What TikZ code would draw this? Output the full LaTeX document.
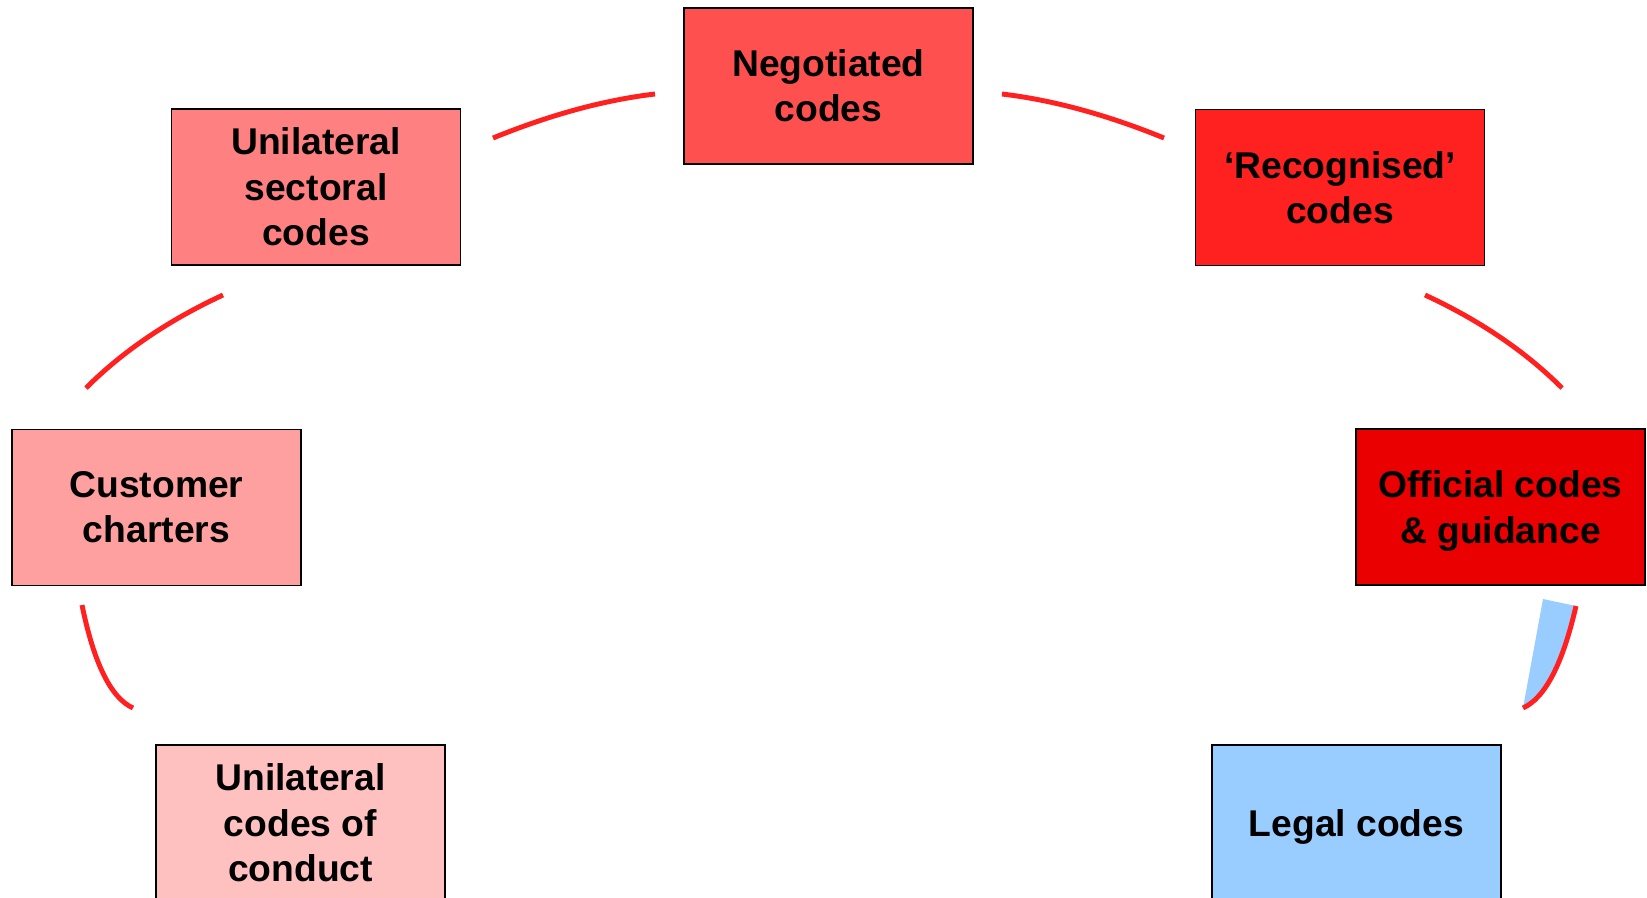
\documentclass[tikz,border=0pt]{standalone}
\usepackage{fontspec}
\setmainfont{Liberation Sans}
\usetikzlibrary{calc}
\definecolor{cNeg}{HTML}{FF5050}
\definecolor{cUss}{HTML}{FF8080}
\definecolor{cRec}{HTML}{FF2020}
\definecolor{cCust}{HTML}{FFA0A0}
\definecolor{cOff}{HTML}{EA0000}
\definecolor{cUcc}{HTML}{FFC0C0}
\definecolor{cLeg}{HTML}{99CCFF}
\definecolor{cArc}{HTML}{FF2020}
\tikzset{
  codebox/.style={draw=black, line width=0.8pt, rectangle, minimum width=5.78cm,
    minimum height=3.12cm, align=center, inner sep=0pt,
    font=\fontsize{21.2}{25.8}\selectfont\bfseries},
  arcline/.style={draw=cArc, line width=2.8pt}
}
\newcommand{\lowr}[1]{\raisebox{-0.08cm}[\height][\depth]{#1}}
\begin{document}
\begin{tikzpicture}[x=0.02cm, y=-0.02cm]
\useasboundingbox (0,0) rectangle (1647,897);
\clip (0,0) rectangle (1647,897);
\fill[white] (0,0) rectangle (1647,897);

\node[codebox, fill=cNeg]  (neg)  at (828.5,86)  {Negotiated\\codes};
\node[codebox, fill=cUss]  (uss)  at (316,187)   {Unilateral\\sectoral\\codes};
\node[codebox, fill=cRec]  (rec)  at (1340,187.5) {‘Recognised’\\codes};
\node[codebox, fill=cCust] (cust) at (156.5,507.5) {Customer\\charters};
\node[codebox, fill=cOff]  (off)  at (1500.5,507) {\lowr{Official codes}\\\lowr{\& guidance}};
\node[codebox, fill=cUcc]  (ucc)  at (300.5,823) {Unilateral\\codes of\\conduct};
\node[codebox, fill=cLeg]  (leg)  at (1356.5,823) {\lowr{Legal codes}};

% arc end points and quadratic control points
\coordinate (a1s) at (493,138);  \coordinate (a1c) at (579,103);  \coordinate (a1e) at (655,94);
\coordinate (a2s) at (1002,94);  \coordinate (a2c) at (1078,103); \coordinate (a2e) at (1164,138);
\coordinate (a3s) at (1425,295); \coordinate (a3c) at (1507,333); \coordinate (a3e) at (1562,388);
\coordinate (a5s) at (223,295);  \coordinate (a5c) at (141,333);  \coordinate (a5e) at (86,388);
\coordinate (a6s) at (82,605);   \coordinate (a6c) at (100,693);  \coordinate (a6e) at (133,708);
\coordinate (a4s) at (1576,606); \coordinate (a4c) at (1556,693); \coordinate (a4e) at (1523,708);
\coordinate (b1) at (1543,599);

\newcommand{\qarc}[4][]{%
  \draw[arcline,#1] (#2) .. controls ($(#2)!0.6667!(#3)$) and ($(#4)!0.6667!(#3)$) .. (#4);}

% blue wedge
\fill[cLeg] (a4e) -- (b1) -- (a4s) .. controls ($(a4s)!0.6667!(a4c)$) and ($(a4e)!0.6667!(a4c)$) .. (a4e) -- cycle;

\qarc{a1s}{a1c}{a1e}
\qarc{a2s}{a2c}{a2e}
\qarc{a3s}{a3c}{a3e}
\qarc{a5s}{a5c}{a5e}
\qarc{a6s}{a6c}{a6e}
\qarc{a4s}{a4c}{a4e}
\end{tikzpicture}
\end{document}
